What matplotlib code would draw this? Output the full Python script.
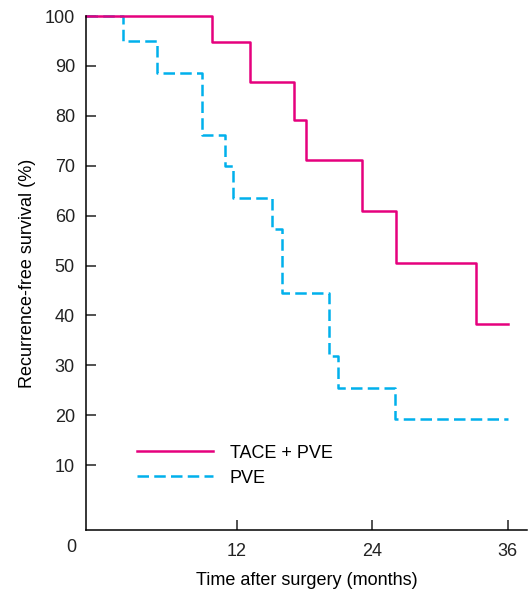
import numpy as np
import matplotlib
matplotlib.use("Agg")
import matplotlib.pyplot as plt

plt.rcParams['font.family'] = ['Liberation Sans', 'DejaVu Sans']

# Kaplan-Meier steps (months, % recurrence-free)
tace_time = [0, 9.8, 13.2, 17.1, 18.1, 23.1, 26.1, 33.2, 36]
tace_surv = [100, 94.8, 86.8, 79.1, 71.1, 60.9, 50.5, 38.3, 38.3]

pve_time = [0, 1.9, 4.9, 8.9, 11.0, 11.7, 15.1, 16.0, 20.15, 21.0, 26.0, 36]
pve_surv = [100, 94.9, 88.6, 76.2, 69.9, 63.5, 57.3, 44.4, 31.9, 25.4, 19.2, 19.2]

x_ticks = [12, 24, 36]
y_ticks = [10, 20, 30, 40, 50, 60, 70, 80, 90, 100]

MAGENTA = '#e5007d'
CYAN = '#00b0ec'
FS = 13

fig = plt.figure(figsize=(5.29, 5.90), dpi=100)
ax = fig.add_axes([86 / 529, 1 - 530 / 590, 441 / 529, 514 / 590])

x_left, x_right = -1.35, 37.7
ax.set_xlim(x_left, x_right)
ax.set_ylim(-3, 100)

# curves begin at the y axis
t_pve = [x_left] + pve_time[1:]
t_tace = [x_left] + tace_time[1:]

l_pve, = ax.step(t_pve, pve_surv, where='post', color=CYAN, lw=1.8,
                 dashes=(4.6, 2.1), clip_on=False, label='PVE')
l_tace, = ax.step(t_tace, tace_surv, where='post', color=MAGENTA, lw=1.8,
                  clip_on=False, label='TACE + PVE')

ax.spines['top'].set_visible(False)
ax.spines['right'].set_visible(False)
for s in ['left', 'bottom']:
    ax.spines[s].set_linewidth(1.1)

ax.set_xticks(x_ticks)
ax.set_yticks(y_ticks)
ax.tick_params(axis='both', direction='in', length=7, width=1.1,
               labelsize=FS, colors='#222222')
ax.tick_params(axis='y', pad=8)
ax.tick_params(axis='x', pad=9)

ax.text(-0.0324, -0.035, '0', transform=ax.transAxes, ha='center', va='center',
        fontsize=FS, color='#222222')

ax.set_xlabel('Time after surgery (months)', fontsize=FS, labelpad=9)
ax.set_ylabel('Recurrence-free survival (%)', fontsize=FS, labelpad=6)

ax.legend(handles=[l_tace, l_pve], loc='upper left',
          bbox_to_anchor=(0.1156, 0.166), frameon=False, fontsize=FS,
          borderpad=0, borderaxespad=0, handlelength=4.2, handletextpad=0.95,
          labelspacing=0.45)

fig.savefig('out.png', dpi=100)
